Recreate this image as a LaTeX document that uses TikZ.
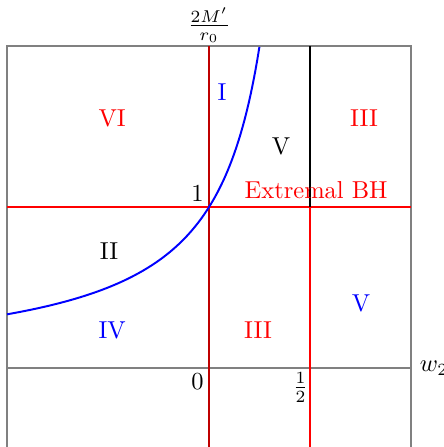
\documentclass[tikz,border=0pt]{standalone}
\usepackage{amsmath}
\usepackage{tikz}
\tikzset{
  box/.style={gray,line width=0.5pt},
  zr/.style={red!75!black,thick},
  hr/.style={red,thick},
  bk/.style={black,thick},
  bh/.style={blue,thick}
}

\begin{document}
\begin{tikzpicture}[x=2.9cm,y=2.311cm]
\useasboundingbox (-1.035,-0.491) rectangle (1.163,2.286);
\coordinate (bl) at (-1,-0.5); \coordinate (tl) at (-1,2);
\coordinate (tr) at (1,2); \coordinate (br) at (1,-0.5);
\coordinate (o) at (0,0); \coordinate (l0) at (-1,0); \coordinate (r0) at (1,0);
\coordinate (ob) at (0,-0.5); \coordinate (ot) at (0,2); \coordinate (one) at (0,1);
\coordinate (l1) at (-1,1); \coordinate (r1) at (1,1);
\coordinate (hb) at (0.5,-0.5); \coordinate (h1) at (0.5,1); \coordinate (ht) at (0.5,2);
\draw[box] (bl) -- (tl) -- (tr) -- (br);
\draw[box] (l0) -- (r0) node[right,black] (w) {$w_2$};
\draw[zr] (ob) -- (ot) node[above,black,inner sep=1pt] (y) {$\frac{2M'}{r_0}$};
\draw[hr] (l1) -- (r1);
\draw[hr] (hb) -- (h1);
\draw[bk] (h1) -- (ht);
\draw[bh] plot[domain=-1:0.25,samples=120] (\x,{1/(1-2*\x)});
\node[below left,inner sep=2pt] (zero) at (o) {$0$};
\node[below left,inner sep=0.5pt] (half) at (0.5,-0.02) {$\frac{1}{2}$};
\node[above left,inner sep=2pt] (unit) at (one) {$1$};
\node[red,above] (ext) at (0.53,1) {Extremal BH};
% regions
\node[blue] (rI) at (0.064,1.714) {I};
\node[red] (rVI) at (-0.48,1.553) {VI};
\node[red] (rIIIa) at (0.767,1.553) {III};
\node (rVa) at (0.356,1.379) {V};
\node (rII) at (-0.495,0.727) {II};
\node[blue] (rIV) at (-0.48,0.236) {IV};
\node[red] (rIIIb) at (0.243,0.236) {III};
\node[blue] (rVb) at (0.752,0.402) {V};
\end{tikzpicture}
\end{document}
